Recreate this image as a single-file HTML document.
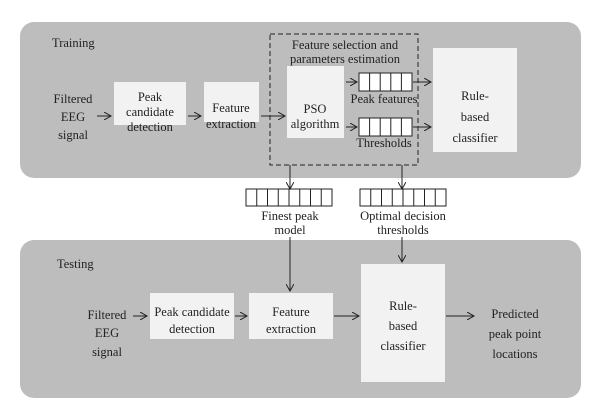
<!DOCTYPE html>
<html><head><meta charset="utf-8"><style>
html,body{margin:0;padding:0;background:#fff;width:600px;height:416px;overflow:hidden}
text{font-family:"Liberation Serif",serif;font-size:12.5px;fill:#222}
</style></head><body>
<svg width="600" height="416" viewBox="0 0 600 416" xmlns="http://www.w3.org/2000/svg">
<defs><marker id="a" markerWidth="8" markerHeight="8" refX="7" refY="4" orient="auto" markerUnits="userSpaceOnUse"><path d="M0,0 L7,4 L0,8" fill="none" stroke="#222" stroke-width="1"/></marker></defs>
<rect x="20" y="22" width="561" height="156" rx="14" fill="#bdbdbd"/>
<rect x="20" y="240" width="561" height="158" rx="14" fill="#bdbdbd"/>
<g fill="#f2f2f2">
<rect x="114" y="82" width="72" height="43"/>
<rect x="204" y="82" width="55" height="40"/>
<rect x="287" y="66" width="57" height="72"/>
<rect x="433" y="48" width="84" height="104"/>
<rect x="150" y="293" width="84" height="46"/>
<rect x="249" y="293" width="84" height="46"/>
<rect x="361" y="264" width="84" height="118"/>
</g>
<rect x="270" y="34" width="148" height="131" fill="none" stroke="#222" stroke-dasharray="5,3"/>
<g fill="#fff" stroke="#222" stroke-width="1">
<rect x="359" y="73" width="53" height="18"/><rect x="359" y="118" width="53" height="18"/>
<rect x="246" y="189" width="86" height="17"/><rect x="360" y="189" width="86" height="17"/>
</g>
<g stroke="#222" stroke-width="1">
<path d="M369.6,73v18M380.2,73v18M390.8,73v18M401.4,73v18M369.6,118v18M380.2,118v18M390.8,118v18M401.4,118v18"/>
<path d="M256.75,189v17M267.5,189v17M278.25,189v17M289,189v17M299.75,189v17M310.5,189v17M321.25,189v17"/>
<path d="M370.75,189v17M381.5,189v17M392.25,189v17M403,189v17M413.75,189v17M424.5,189v17M435.25,189v17"/>
</g>
<g stroke="#222" stroke-width="1" fill="none" marker-end="url(#a)">
<path d="M97,116H111"/><path d="M188,116H201"/><path d="M261,116H285"/>
<path d="M346,82H357"/><path d="M346,127H357"/>
<path d="M413,82H431"/><path d="M413,127H431"/>
<path d="M290,165V189"/><path d="M402,165V189"/>
<path d="M290,237V291"/><path d="M402,237V262"/>
<path d="M133,316H147"/><path d="M235,316H247"/><path d="M334,316H359"/><path d="M446,316H474"/>
</g>
<text x="52" y="47">Training</text>
<text x="57" y="268">Testing</text>
<g text-anchor="middle">
<text x="73" y="103">Filtered</text><text x="73" y="121">EEG</text><text x="73" y="139">signal</text>
<text x="150" y="101">Peak</text><text x="150" y="116">candidate</text><text x="150" y="131">detection</text>
<text x="231" y="112">Feature</text><text x="231" y="128">extraction</text>
<text x="345" y="49">Feature selection and</text><text x="345" y="63">parameters estimation</text>
<text x="315" y="113">PSO</text><text x="315" y="128">algorithm</text>
<text x="384" y="103">Peak features</text><text x="384" y="147">Thresholds</text>
<text x="475" y="100">Rule-</text><text x="475" y="121">based</text><text x="475" y="142">classifier</text>
<text x="290" y="220">Finest peak</text><text x="290" y="234">model</text>
<text x="403" y="220">Optimal decision</text><text x="403" y="234">thresholds</text>
<text x="107" y="319">Filtered</text><text x="107" y="337">EEG</text><text x="107" y="356">signal</text>
<text x="192" y="316">Peak candidate</text><text x="192" y="333">detection</text>
<text x="291" y="316">Feature</text><text x="291" y="333">extraction</text>
<text x="403" y="310">Rule-</text><text x="403" y="330">based</text><text x="403" y="350">classifier</text>
<text x="515" y="318">Predicted</text><text x="515" y="338">peak point</text><text x="515" y="358">locations</text>
</g>
</svg>
</body></html>
